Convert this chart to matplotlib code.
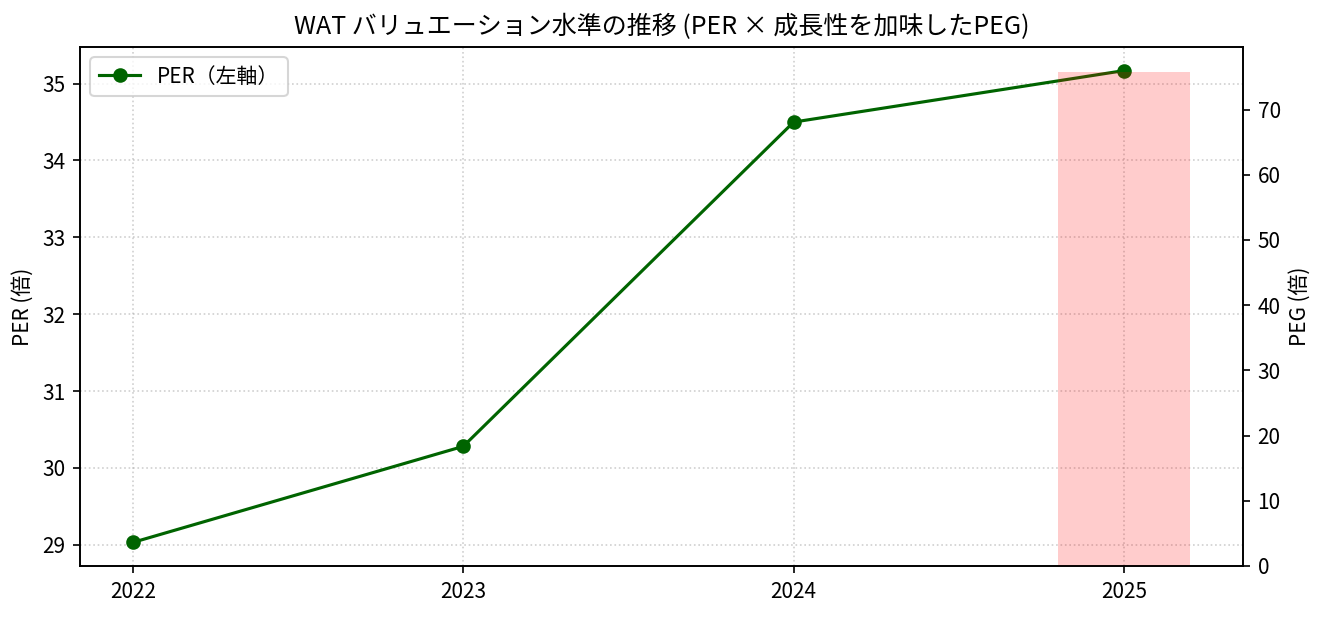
import numpy as np
import matplotlib
matplotlib.use("Agg")
import matplotlib.pyplot as plt

plt.rcParams['font.family'] = ['Noto Sans CJK JP', 'DejaVu Sans']

years = [2022, 2023, 2024, 2025]
per_values = [29.03, 30.28, 34.50, 35.17]
peg_values = [np.nan, np.nan, np.nan, 75.8]

title = "WAT バリュエーション水準の推移 (PER × 成長性を加味したPEG)"

fig = plt.figure(figsize=(8.8, 617 / 150), dpi=150)
ax1 = fig.add_axes([80 / 1320, 1 - 566 / 617, (1243 - 80) / 1320, (566 - 47) / 617])
ax2 = ax1.twinx()

ax1.plot(years, per_values, color='darkgreen', marker='o', label='PER（左軸）')
ax1.set_ylabel('PER (倍)')
ax1.grid(True, linestyle=':', alpha=0.6)

bx = [y for y, v in zip(years, peg_values) if not np.isnan(v)]
bv = [v for v in peg_values if not np.isnan(v)]
ax2.bar(bx, bv, width=0.4, color='red', alpha=0.2, label='PEG（右軸）')
ax2.set_ylabel('PEG (倍)')

ax1.set_xticks(years)
ax1.set_xticklabels([str(y) for y in years])
ax1.legend(loc='upper left')
ax1.set_title(title, fontsize=12)

fig.savefig('out.png', dpi=150)
